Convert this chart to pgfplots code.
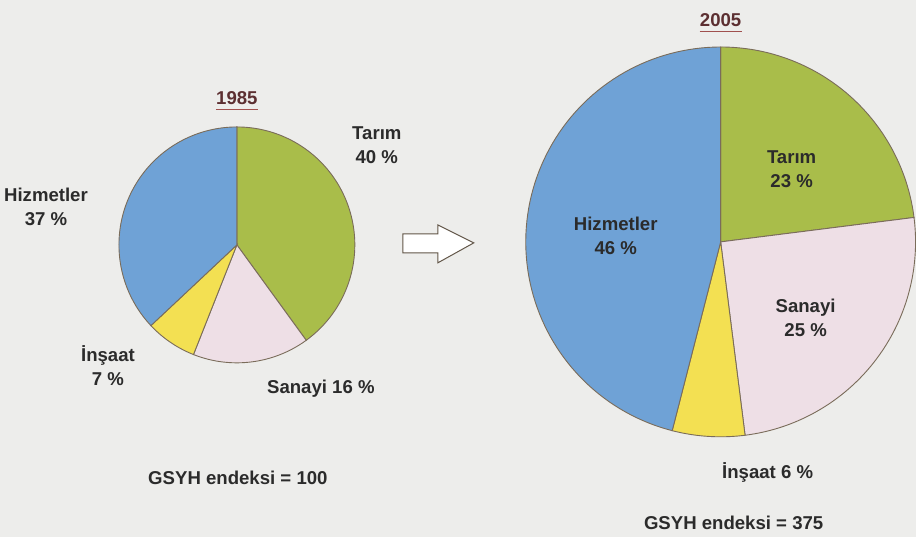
\documentclass[border=0pt]{standalone}
\usepackage{fontspec}
\setmainfont{Liberation Sans}
\usepackage{pgfplots}
\pgfplotsset{compat=1.18}

\definecolor{paper}{HTML}{EDEDEB}
\definecolor{tarim}{HTML}{A9BD4A}
\definecolor{hizmet}{HTML}{6FA2D6}
\definecolor{sanayi}{HTML}{EEDFE6}
\definecolor{insaat}{HTML}{F3E052}
\definecolor{edge}{HTML}{7A6C5A}
\definecolor{txt}{HTML}{2B2B2B}
\definecolor{yearc}{HTML}{5C2F31}
\definecolor{yearline}{HTML}{A0504E}

\tikzset{lbl/.style={font=\fontsize{9.3}{12}\selectfont\bfseries, text=txt, align=center, inner sep=0pt}}

% one wedge: centre x, centre y, radius, from (cumulative %), to (cumulative %), colour
\newcommand{\slice}[6]{%
  \pgfmathsetmacro{\aa}{90-3.6*#5}%
  \pgfmathsetmacro{\ab}{90-3.6*#4}%
  \addplot[fill=#6, draw=edge, line width=0.45pt, domain=\aa:\ab, samples=90, variable=\t]
    ({#1+#3*cos(\t)}, {#2+#3*sin(\t)}) -- (axis cs:#1,#2) -- cycle;
}

\begin{document}
\begin{tikzpicture}
\begin{axis}[
  x=0.5pt, y=0.5pt,
  xmin=0, xmax=916, ymin=0, ymax=537,
  axis lines=none, ticks=none,
  clip=false,
  scale only axis,
]
  % paper background
  \addplot[fill=paper, draw=none] coordinates {(0,0) (916,0) (916,537) (0,537)} -- cycle;

  % 1985: Tarim 40, Sanayi 16, Insaat 7, Hizmetler 37
  \slice{237}{292}{118}{0}{40}{tarim}
  \slice{237}{292}{118}{40}{56}{sanayi}
  \slice{237}{292}{118}{56}{63}{insaat}
  \slice{237}{292}{118}{63}{100}{hizmet}

  % 2005: Tarim 23, Sanayi 25, Insaat 6, Hizmetler 46
  \slice{721}{295}{195}{0}{23}{tarim}
  \slice{721}{295}{195}{23}{48}{sanayi}
  \slice{721}{295}{195}{48}{54}{insaat}
  \slice{721}{295}{195}{54}{100}{hizmet}

  % arrow between the two pies
  \addplot[fill=white, draw=edge!80!black, line width=0.5pt] coordinates {
    (403,303) (438,303) (438,312) (474,294) (438,274) (438,284) (403,284)} -- cycle;

  % years
  \node[lbl, text=yearc] (y1) at (axis cs:237,439) {1985};
  \draw[yearline, line width=0.7pt] ([yshift=-2.2pt]y1.south west) -- ([yshift=-2.2pt]y1.south east);
  \node[lbl, text=yearc] (y2) at (axis cs:721,517) {2005};
  \draw[yearline, line width=0.7pt] ([yshift=-2.2pt]y2.south west) -- ([yshift=-2.2pt]y2.south east);

  % 1985 labels
  \node[lbl] at (axis cs:377,392) {Tarım\\40 \%};
  \node[lbl] at (axis cs:46,330) {Hizmetler\\37 \%};
  \node[lbl] at (axis cs:108,171) {İnşaat\\7 \%};
  \node[lbl] at (axis cs:321,148) {Sanayi 16 \%};
  \node[lbl] at (axis cs:238,59) {GSYH endeksi = 100};

  % 2005 labels
  \node[lbl] at (axis cs:792,368) {Tarım\\23 \%};
  \node[lbl] at (axis cs:616,301) {Hizmetler\\46 \%};
  \node[lbl] at (axis cs:806,219) {Sanayi\\25 \%};
  \node[lbl] at (axis cs:768,64) {İnşaat 6 \%};
  \node[lbl] at (axis cs:734,14) {GSYH endeksi = 375};
\end{axis}
\end{tikzpicture}
\end{document}
